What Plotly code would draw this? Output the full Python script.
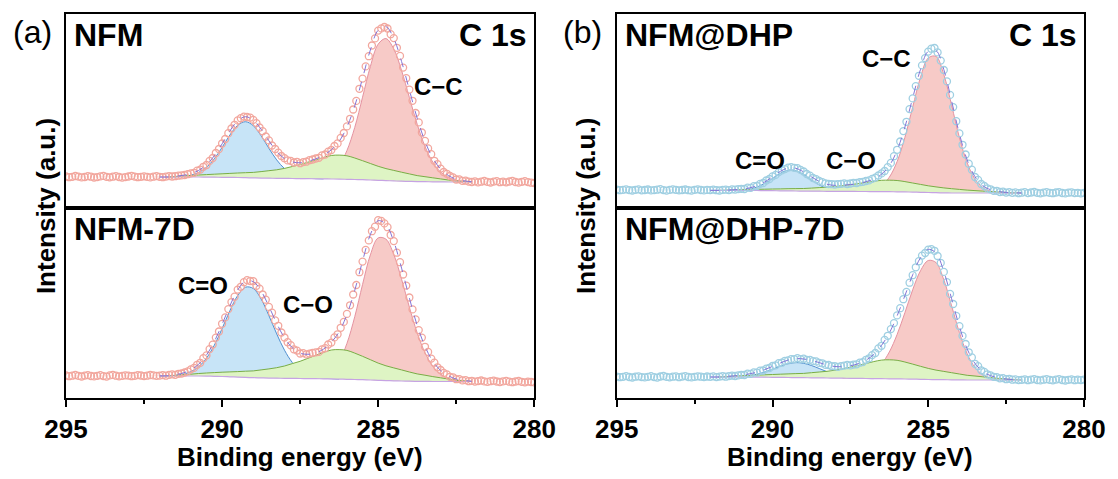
import numpy as np
import plotly.graph_objects as go

# ---------------- data (intensity in arbitrary units) ----------------
# binding-energy grid of the measured spectra, 0.1 eV step
energy = np.round(np.linspace(295.0, 280.0, 151), 2)
# binding-energy grid of the fitted components, 0.25 eV step
energy_fit = np.round(np.linspace(292.0, 282.0, 41), 2)

nfm_raw = [
    31.5, 30.8, 31.2, 32.0, 31.4, 30.6, 31.0, 31.8, 31.3, 30.5,
    30.9, 31.6, 32.1, 31.2, 30.7, 31.3, 31.9, 31.0, 30.4, 30.9,
    31.5, 32.2, 31.4, 30.8, 31.2, 31.7, 31.1, 30.6, 31.3, 31.9,
    31.2, 30.8, 31.4, 31.9, 31.5, 31.8, 32.3, 32.6, 33.0, 33.8,
    34.6, 35.2, 37.3, 38.4, 41.2, 43.0, 47.1, 50.0, 55.0, 59.0,
    64.5, 69.0, 74.8, 79.5, 83.2, 87.6, 89.8, 91.4, 91.0, 90.4,
    88.1, 84.9, 80.5, 76.8, 71.5, 67.6, 62.5, 59.0, 55.4, 52.0,
    49.8, 47.6, 47.1, 45.5, 46.2, 44.8, 45.9, 46.3, 47.8, 48.5,
    49.5, 50.2, 52.6, 53.5, 56.4, 58.0, 62.0, 64.6, 70.1, 75.0,
    81.6, 89.2, 98.5, 107.1, 119.2, 129.4, 141.6, 151.8, 162.5, 169.6,
    177.4, 179.6, 181.0, 179.5, 173.8, 169.9, 160.2, 152.1, 140.4, 129.8,
    118.4, 107.2, 95.0, 85.6, 75.5, 67.1, 59.6, 53.8, 47.2, 43.8,
    39.4, 36.0, 34.2, 32.0, 30.6, 28.5, 28.6, 27.2, 27.3, 26.4,
    26.0, 26.7, 25.6, 26.3, 27.0, 26.1, 25.5, 26.4, 26.9, 25.8,
    26.3, 25.7, 26.5, 27.1, 26.0, 25.4, 26.2, 26.8, 25.9, 25.3,
    25.0]
nfm7d_raw = [
    22.5, 21.8, 22.3, 23.0, 22.1, 21.5, 22.4, 22.9, 22.0, 21.6,
    22.2, 22.8, 21.9, 21.4, 22.6, 23.1, 22.3, 21.7, 22.1, 22.7,
    22.4, 21.8, 22.2, 22.9, 22.5, 21.9, 22.3, 23.0, 22.6, 22.1,
    22.4, 22.9, 22.3, 23.1, 23.6, 23.2, 24.2, 24.5, 25.5, 26.6,
    28.6, 30.1, 33.2, 35.2, 39.8, 42.6, 48.9, 53.4, 60.4, 66.5,
    74.2, 80.6, 88.9, 95.9, 101.3, 108.4, 111.2, 115.8, 117.9, 117.0,
    116.8, 112.2, 109.4, 103.5, 98.3, 91.1, 85.3, 77.6, 72.2, 65.5,
    60.5, 55.8, 52.8, 48.7, 47.4, 44.5, 44.9, 43.6, 44.4, 45.2,
    45.6, 46.1, 48.6, 49.8, 53.5, 55.4, 60.6, 63.7, 70.2, 76.1,
    84.1, 92.7, 103.5, 113.0, 125.8, 136.4, 148.1, 157.6, 166.8, 171.3,
    177.8, 177.1, 174.6, 170.8, 163.0, 156.9, 145.3, 135.8, 123.5, 112.4,
    100.5, 88.6, 78.6, 67.9, 60.4, 51.2, 46.1, 39.4, 35.3, 30.7,
    28.0, 25.1, 23.6, 21.2, 20.7, 18.8, 18.9, 17.6, 17.9, 16.8,
    17.2, 16.4, 16.9, 17.5, 16.6, 16.1, 16.8, 17.3, 16.5, 16.0,
    16.6, 17.1, 16.3, 15.8, 16.5, 17.0, 16.2, 15.7, 16.4, 16.0,
    15.6]
dhp_raw = [
    18.4, 17.8, 18.1, 18.7, 17.9, 17.5, 18.2, 18.6, 17.7, 18.0,
    18.5, 17.6, 17.9, 18.3, 18.8, 17.9, 17.4, 18.1, 18.6, 18.2,
    17.7, 18.0, 18.5, 17.8, 17.4, 18.2, 18.7, 18.0, 17.6, 18.1,
    17.9, 18.4, 17.8, 17.5, 18.1, 18.3, 17.9, 18.6, 18.4, 18.9,
    19.2, 19.0, 20.3, 20.1, 21.8, 22.0, 24.1, 25.0, 27.5, 29.0,
    31.6, 33.1, 35.9, 37.6, 38.9, 40.4, 40.9, 40.2, 39.8, 38.1,
    36.5, 34.0, 32.4, 30.0, 28.8, 27.0, 25.9, 24.6, 24.0, 23.8,
    23.5, 23.9, 24.2, 24.6, 24.0, 24.5, 25.1, 25.0, 25.8, 26.2,
    27.0, 27.6, 29.1, 30.4, 32.5, 34.6, 37.0, 40.9, 45.1, 51.8,
    58.2, 66.5, 76.9, 86.2, 98.9, 109.6, 121.9, 132.2, 142.6, 149.9,
    156.4, 159.3, 160.0, 155.6, 147.4, 138.0, 126.6, 113.1, 100.9, 86.8,
    74.6, 63.2, 53.5, 44.3, 38.3, 31.0, 28.1, 24.0, 22.0, 19.6,
    18.7, 17.1, 17.2, 16.0, 16.3, 15.4, 15.9, 15.1, 15.6, 14.8,
    15.3, 15.9, 14.9, 15.5, 16.0, 15.2, 14.7, 15.4, 15.8, 15.1,
    14.8, 15.5, 15.9, 15.0, 14.6, 15.3, 15.7, 14.9, 15.2, 14.7,
    15.1]
dhp7d_raw = [
    21.4, 20.8, 21.2, 21.9, 21.0, 20.5, 21.3, 21.7, 20.9, 20.6,
    21.2, 21.8, 20.9, 20.4, 21.5, 22.0, 21.1, 20.7, 21.3, 21.6,
    20.8, 21.4, 21.9, 21.0, 20.6, 21.2, 21.7, 21.3, 20.9, 21.5,
    21.1, 21.6, 20.9, 21.4, 21.8, 21.3, 21.9, 22.3, 22.0, 22.6,
    23.2, 23.0, 24.3, 24.1, 25.6, 25.4, 27.3, 27.5, 29.4, 30.0,
    32.0, 32.7, 34.8, 35.3, 37.2, 37.6, 38.9, 38.8, 39.8, 38.9,
    39.3, 38.1, 38.2, 36.9, 36.6, 35.1, 34.7, 33.2, 33.0, 31.8,
    31.8, 31.2, 31.9, 32.4, 33.0, 32.6, 33.4, 33.7, 35.3, 35.9,
    38.2, 39.7, 42.9, 45.0, 49.6, 52.2, 58.1, 62.2, 68.9, 74.9,
    82.6, 89.8, 98.8, 106.1, 115.3, 122.8, 130.7, 136.8, 142.4, 145.0,
    148.3, 148.8, 147.2, 142.0, 135.1, 126.1, 115.9, 104.1, 94.0, 82.1,
    71.9, 62.1, 54.0, 45.7, 40.6, 34.2, 31.8, 27.7, 26.1, 23.6,
    22.6, 21.2, 20.9, 19.7, 19.9, 18.8, 19.2, 18.3, 18.6, 17.9,
    18.2, 18.7, 17.8, 18.4, 18.9, 18.0, 17.6, 18.3, 18.8, 18.1,
    17.7, 18.4, 18.9, 18.0, 17.5, 18.2, 18.6, 17.8, 18.3, 17.9,
    18.4]

# fitted background (on energy_fit)
nfm_bg = [31, 31, 31, 31, 31, 31, 30.9, 30.8, 30.7, 30.6, 30.5, 30.3, 30.1, 29.9,
          29.8, 29.7, 29.6, 29.5, 29.4, 29.3, 29.2, 29.1, 29.0, 28.9, 28.7, 28.5,
          28.3, 28.0, 27.7, 27.4, 27.1, 26.8, 26.6, 26.4, 26.3, 26.2, 26.1, 26,
          26, 26, 26]
nfm7d_bg = [22, 22, 22, 22, 22, 22, 21.9, 21.7, 21.5, 21.2, 20.9, 20.6, 20.3, 20.1,
            19.9, 19.8, 19.7, 19.6, 19.5, 19.4, 19.3, 19.2, 19.1, 18.9, 18.7, 18.5,
            18.3, 18.0, 17.7, 17.4, 17.2, 17.0, 16.8, 16.7, 16.6, 16.5, 16.5, 16.5,
            16.5, 16.5, 16.5]
dhp_bg = [17.6, 17.6, 17.6, 17.6, 17.6, 17.6, 17.5, 17.4, 17.3, 17.2, 17.1, 17.0,
          16.9, 16.8, 16.8, 16.7, 16.7, 16.6, 16.6, 16.5, 16.5, 16.4, 16.4, 16.3,
          16.2, 16.1, 15.9, 15.7, 15.5, 15.3, 15.1, 15.0, 15.0, 15.0, 15.0, 15.0,
          15.0, 15.0, 15.0, 15.0, 15.0]
dhp7d_bg = [21, 21, 21, 21, 21, 21, 20.9, 20.8, 20.7, 20.6, 20.5, 20.4, 20.3, 20.2,
            20.1, 20.0, 19.9, 19.8, 19.7, 19.6, 19.5, 19.4, 19.3, 19.2, 19.1, 19.0,
            18.9, 18.7, 18.5, 18.4, 18.3, 18.2, 18.1, 18.0, 18, 18, 18, 18, 18, 18, 18]

# C=O components (above background)
nfm_co = [0, 0, 0.2, 0.7, 1.8, 4.6, 9.8, 18.4, 29.9, 42.4, 52.2, 56, 52.2, 42.4, 29.9,
          18.4, 9.8, 4.6, 1.8, 0.7, 0.2] + [0] * 20
nfm7d_co = [0.1, 0.2, 0.7, 1.8, 4.4, 9.3, 18, 31, 47.9, 66.1, 81.6, 90.2, 89.2, 78.9,
            62.5, 44.3, 28.1, 15.9, 8.1, 3.7, 1.5, 0.5, 0.2] + [0] * 18
dhp_co = [0, 0, 0, 0.1, 0.5, 1.4, 3.5, 7.2, 12.3, 17.5, 20.7, 20.3, 16.6, 11.2, 6.3,
          2.9, 1.1, 0.4, 0.1] + [0] * 22
dhp7d_co = [0, 0, 0.1, 0.3, 0.7, 1.5, 2.9, 5.2, 8.1, 11.2, 13.8, 15, 14.4, 12.3, 9.4,
            6.3, 3.7, 2, 0.9, 0.4, 0.1] + [0] * 20

# C-O components
nfm_c_o = [0, 0, 0.5, 1, 1.5, 2, 2.5, 3, 3.5, 4, 4.5, 5, 5.5, 6.5, 7.5, 8.5, 10, 12,
           14, 16.5, 19, 21.5, 23.5, 24, 23.5, 21.5, 19, 16.5, 14, 12, 10.5, 9, 7.5,
           6, 5, 4, 3, 2, 1, 0.5, 0]
nfm7d_c_o = [0, 0, 0.6, 1.2, 1.8, 2.5, 3.1, 3.7, 4.3, 4.9, 5.5, 6.2, 6.8, 8, 9.2,
             10.5, 12.3, 14.8, 17.2, 20.3, 23.4, 26.4, 28.9, 29.5, 28.9, 26.4, 23.4,
             20.3, 17.2, 14.8, 12.9, 11.1, 9.2, 7.4, 6.2, 4.9, 3.7, 2.5, 1.2, 0.6, 0]
dhp_c_o = [0, 0, 0.2, 0.5, 0.7, 1, 1.2, 1.4, 1.7, 1.9, 2.2, 2.4, 2.6, 3.1, 3.6, 4.1,
           4.8, 5.8, 6.7, 7.9, 9.1, 10.3, 11.3, 11.5, 11.3, 10.3, 9.1, 7.9, 6.7, 5.8,
           5.0, 4.3, 3.6, 2.9, 2.4, 1.9, 1.4, 1, 0.5, 0.2, 0]
dhp7d_c_o = [0, 0, 0.4, 0.8, 1.2, 1.6, 2, 2.4, 2.8, 3.2, 3.6, 4, 4.3, 5.1, 5.9, 6.7,
             7.9, 9.5, 11.1, 13, 15, 17, 18.6, 19, 18.6, 17, 15, 13, 11.1, 9.5, 8.3,
             7.1, 5.9, 4.7, 4, 3.2, 2.4, 1.6, 0.8, 0.4, 0]

# C-C components
nfm_cc = [0] * 19 + [0.2, 0.7, 2.1, 5.7, 13.7, 28.8, 52.1, 82.5, 113.5, 136.1, 142,
                     131.9, 110.7, 83.9, 57.4, 35.4, 19.7, 9.9, 4.5, 1.8, 0.7, 0.2]
nfm7d_cc = [0] * 19 + [0.3, 0.9, 2.8, 7.6, 17.8, 35.9, 62.8, 95.2, 125.1, 142.4, 141.4,
                       126.3, 101.8, 74, 48.5, 28.8, 15.4, 7.4, 3.2, 1.3, 0.5, 0.2]
dhp_cc = [0] * 20 + [0.7, 2.2, 6.1, 14.5, 30.2, 54.5, 85, 114.8, 134.5, 136.3, 118.3,
                     87.7, 55.5, 30.1, 13.9, 5.5, 1.9, 0.5, 0.1, 0, 0]
dhp7d_cc = [0] * 18 + [0.5, 1.3, 3.2, 7.2, 14.7, 26.8, 44.4, 66.3, 89.3, 108.5, 119,
                       117, 99.9, 73.9, 47.4, 26.3, 12.6, 5.3, 1.9, 0.6, 0.2, 0, 0]

sample_names = ["NFM", "NFM-7D", "NFM@DHP", "NFM@DHP-7D"]
raw_sets = [nfm_raw, nfm7d_raw, dhp_raw, dhp7d_raw]
bg_sets = [nfm_bg, nfm7d_bg, dhp_bg, dhp7d_bg]
co_sets = [nfm_co, nfm7d_co, dhp_co, dhp7d_co]
c_o_sets = [nfm_c_o, nfm7d_c_o, dhp_c_o, dhp7d_c_o]
cc_sets = [nfm_cc, nfm7d_cc, dhp_cc, dhp7d_cc]

for arr in raw_sets:
    assert len(arr) == len(energy), len(arr)
for group in (bg_sets, co_sets, c_o_sets, cc_sets):
    for arr in group:
        assert len(arr) == len(energy_fit), len(arr)

# ---------------- styling ----------------
W, H = 1118, 479
L, R, T, B = 66, 28, 14, 81
PW, PH = W - L - R, H - T - B
FONT = "Liberation Sans, Arial, sans-serif"


def fx(px):
    return (px - L) / PW


def fy(py):
    return (H - B - py) / PH


x_left = [0.0, fx(537)]
x_right = [fx(620), 1.0]
y_low = [0.0, fy(208)]
y_up = [fy(208), 1.0]

circle_colors = ["#f2a79e", "#f2a79e", "#9fcfe2", "#9fcfe2"]
axes_ids = [("x", "y"), ("x2", "y2"), ("x3", "y3"), ("x4", "y4")]

fills = [  # (component key, fill colour, line colour)
    ("cc", "#f7cac7", "#e592a0"),
    ("co", "#c7e4f7", "#4f8fd0"),
    ("c_o", "#def4c4", "#79ad45"),
]

fig = go.Figure()


def support(comp):
    idx = [i for i, v in enumerate(comp) if v > 0]
    lo = max(idx[0] - 1, 0)
    hi = min(idx[-1] + 1, len(comp) - 1)
    return slice(lo, hi + 1)


for k in range(4):
    xa, ya = axes_ids[k]
    bg = np.array(bg_sets[k], dtype=float)
    comps = {"cc": np.array(cc_sets[k], float), "co": np.array(co_sets[k], float),
             "c_o": np.array(c_o_sets[k], float)}
    for key, fcol, lcol in fills:
        c = comps[key]
        s = support(c)
        fig.add_trace(go.Scatter(x=energy_fit[s], y=bg[s], mode="lines",
                                 line=dict(width=0, shape="spline", color=fcol),
                                 hoverinfo="skip", showlegend=False, xaxis=xa, yaxis=ya))
        fig.add_trace(go.Scatter(x=energy_fit[s], y=(bg + c)[s], mode="lines",
                                 fill="tonexty", fillcolor=fcol,
                                 line=dict(width=1, shape="spline", color=lcol),
                                 hoverinfo="skip", showlegend=False, xaxis=xa, yaxis=ya))
    # background line
    fig.add_trace(go.Scatter(x=energy_fit, y=bg, mode="lines",
                             line=dict(width=1.2, color="#c6a3e3", shape="spline"),
                             showlegend=False, xaxis=xa, yaxis=ya))
    # measured data
    fig.add_trace(go.Scatter(x=energy, y=raw_sets[k], mode="markers",
                             marker=dict(symbol="circle-open", size=7,
                                         color=circle_colors[k],
                                         line=dict(width=1.3, color=circle_colors[k])),
                             showlegend=False, xaxis=xa, yaxis=ya))
    # fitted envelope
    env = bg + comps["cc"] + comps["co"] + comps["c_o"]
    fig.add_trace(go.Scatter(x=energy_fit, y=env, mode="lines",
                             line=dict(width=1, color="#8474d6", dash="dash",
                                       shape="spline"),
                             showlegend=False, xaxis=xa, yaxis=ya))

frame = dict(showline=True, linewidth=2, linecolor="black", mirror=True,
             showgrid=False, zeroline=False)
x_common = dict(range=[295, 280], **frame)
x_top = dict(x_common, showticklabels=False, ticks="")
x_bot = dict(x_common, tickvals=[295, 290, 285, 280], ticks="outside", ticklen=7,
             tickwidth=2, tickcolor="black",
             tickfont=dict(family=FONT, size=26, color="black", weight="bold"),
             minor=dict(tickvals=[292.5, 287.5, 282.5], ticks="outside", ticklen=4,
                        tickwidth=2, tickcolor="black"))
y_common = dict(showticklabels=False, ticks="", **frame)

fig.update_layout(
    width=W, height=H,
    margin=dict(l=L, r=R, t=T, b=B),
    paper_bgcolor="white", plot_bgcolor="white",
    showlegend=False,
    xaxis=dict(x_top, domain=x_left, anchor="y"),
    yaxis=dict(y_common, domain=y_up, anchor="x", range=[0, 194]),
    xaxis2=dict(x_bot, domain=x_left, anchor="y2"),
    yaxis2=dict(y_common, domain=y_low, anchor="x2", range=[0, 190]),
    xaxis3=dict(x_top, domain=x_right, anchor="y3"),
    yaxis3=dict(y_common, domain=y_up, anchor="x3", range=[0, 194]),
    xaxis4=dict(x_bot, domain=x_right, anchor="y4"),
    yaxis4=dict(y_common, domain=y_low, anchor="x4", range=[0, 190]),
)


def label(text, px, py, size, bold=True, xanchor="center", angle=0):
    fig.add_annotation(text=text, x=fx(px), y=fy(py), xref="paper", yref="paper",
                       xanchor=xanchor, yanchor="middle", showarrow=False,
                       textangle=angle,
                       font=dict(family=FONT, size=size, color="black",
                                 weight="bold" if bold else "normal"))


label("(a)", 32, 32, 32, bold=False)
label("(b)", 586, 32, 32, bold=False)
label(sample_names[0], 72, 35, 32, xanchor="left")
label(sample_names[1], 72, 229, 32, xanchor="left")
label(sample_names[2], 626, 35, 32, xanchor="left")
label(sample_names[3], 626, 229, 32, xanchor="left")
label("C 1s", 532, 35, 32, xanchor="right")
label("C 1s", 1085, 35, 32, xanchor="right")

label("C\u2212C", 441, 86, 24)
label("C=O", 204, 285, 24)
label("C\u2212O", 309, 304, 24)
label("C\u2212C", 891, 58, 24)
label("C=O", 764, 160, 24)
label("C\u2212O", 856, 160, 24)

label("Intensity (a.u.)", 46, 206, 26, angle=-90)
label("Intensity (a.u.)", 589, 206, 26, angle=-90)
label("Binding energy (eV)", 301.5, 457, 26)
label("Binding energy (eV)", 855, 457, 26)

fig.write_html("out.html",
               config={"displayModeBar": False},
               post_script="document.body.style.margin='0';"
                           "document.body.style.overflow='hidden';")
